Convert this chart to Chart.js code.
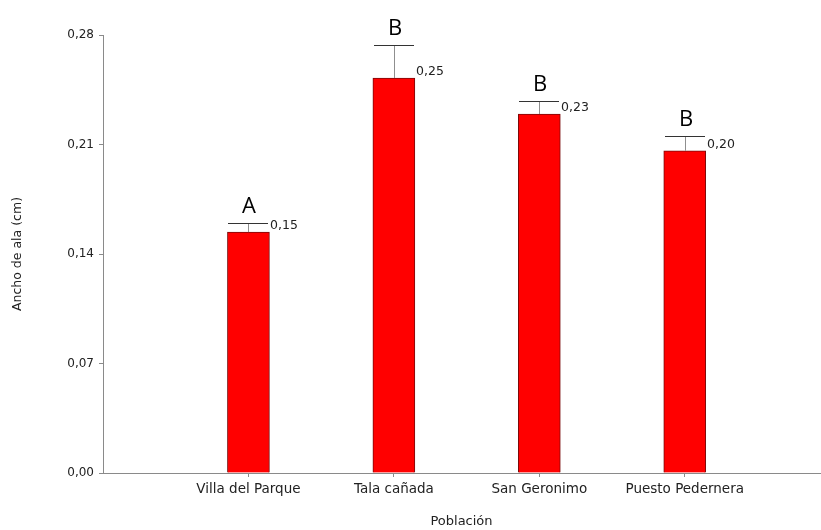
<!DOCTYPE html>
<html><head><meta charset="utf-8">
<script src="https://cdn.jsdelivr.net/npm/chart.js@4.4.0/dist/chart.umd.min.js"></script>
<style>html,body{margin:0;padding:0;background:#fff;overflow:hidden}</style>
</head><body>
<canvas id="c" width="821" height="530"></canvas>
<script>
const categories = ["Villa del Parque", "Tala cañada", "San Geronimo", "Puesto Pedernera"];
const positions = [1, 2, 3, 4];
const meanValues = [0.154, 0.2525, 0.2295, 0.206];
const errorTops = [0.160, 0.2736, 0.2378, 0.2154];
const valueLabels = ["0,15", "0,25", "0,23", "0,20"];
const groupLetters = ["A", "B", "B", "B"];
const yTicks = [0, 0.07, 0.14, 0.21, 0.28];

const FONT = '"DejaVu Sans", sans-serif';

const annot = {
  id: 'annot',
  afterDatasetsDraw(chart) {
    const { ctx, scales: { y } } = chart;
    const meta = chart.getDatasetMeta(0);
    meta.data.forEach((bar, i) => {
      const cx = Math.round(bar.x);
      const half = bar.width / 2;
      const yTop = Math.round(y.getPixelForValue(errorTops[i]));
      const yMean = y.getPixelForValue(meanValues[i]);
      ctx.save();
      ctx.lineWidth = 1;
      ctx.strokeStyle = '#8f8f8f';
      ctx.beginPath();
      ctx.moveTo(cx + 0.5, yMean);
      ctx.lineTo(cx + 0.5, yTop);
      ctx.stroke();
      ctx.strokeStyle = '#333';
      ctx.beginPath();
      ctx.moveTo(cx - half + 1, yTop + 0.5);
      ctx.lineTo(cx + half - 1, yTop + 0.5);
      ctx.stroke();
      ctx.fillStyle = '#222';
      ctx.font = '12.5px ' + FONT;
      ctx.textAlign = 'left';
      ctx.textBaseline = 'alphabetic';
      ctx.fillText(valueLabels[i], cx + half + 1, yMean - 3);
      ctx.fillStyle = '#000';
      ctx.font = '22px "Open Sans", sans-serif';
      ctx.textAlign = 'center';
      ctx.fillText(groupLetters[i], cx + 1, yTop - 10);
      ctx.restore();
    });
  }
};

new Chart(document.getElementById('c'), {
  type: 'bar',
  data: {
    datasets: [{
      data: positions.map((p, i) => ({ x: p, y: meanValues[i] })),
      backgroundColor: '#ff0000',
      borderColor: '#7a0a0a',
      borderWidth: 1,
      barThickness: 42
    }]
  },
  options: {
    responsive: false,
    animation: false,
    events: [],
    layout: { padding: { top: 35, right: 1, left: 0, bottom: 0 } },
    plugins: { legend: { display: false }, tooltip: { enabled: false } },
    scales: {
      x: {
        type: 'linear',
        offset: false,
        min: 0,
        max: 4.93,
        afterBuildTicks: s => { s.ticks = positions.map(v => ({ value: v })); },
        afterFit: s => { s.height = 57; },
        ticks: {
          autoSkip: false, maxRotation: 0, padding: 4,
          color: '#222', font: { family: FONT, size: 13.5 },
          callback: v => { const k = positions.indexOf(v); return k >= 0 ? categories[k] : ''; }
        },
        grid: { offset: false, drawOnChartArea: false, tickLength: 4, color: '#8a8a8a' },
        border: { color: '#8a8a8a' },
        title: { display: true, text: 'Población', color: '#222', font: { family: FONT, size: 13 }, padding: { top: 0, bottom: 1 } }
      },
      y: {
        min: 0, max: 0.28,
        afterBuildTicks: s => { s.ticks = yTicks.map(v => ({ value: v })); },
        afterFit: s => { s.width = 103; },
        ticks: {
          padding: 5, color: '#222', font: { family: FONT, size: 12 },
          callback: v => v.toFixed(2).replace('.', ',')
        },
        grid: { drawOnChartArea: false, tickLength: 4, color: '#8a8a8a' },
        border: { color: '#8a8a8a' },
        title: { display: true, text: 'Ancho de ala (cm)', color: '#222', font: { family: FONT, size: 12.5 }, padding: { top: 10, bottom: 0 } }
      }
    }
  },
  plugins: [annot]
});
</script>
</body></html>
